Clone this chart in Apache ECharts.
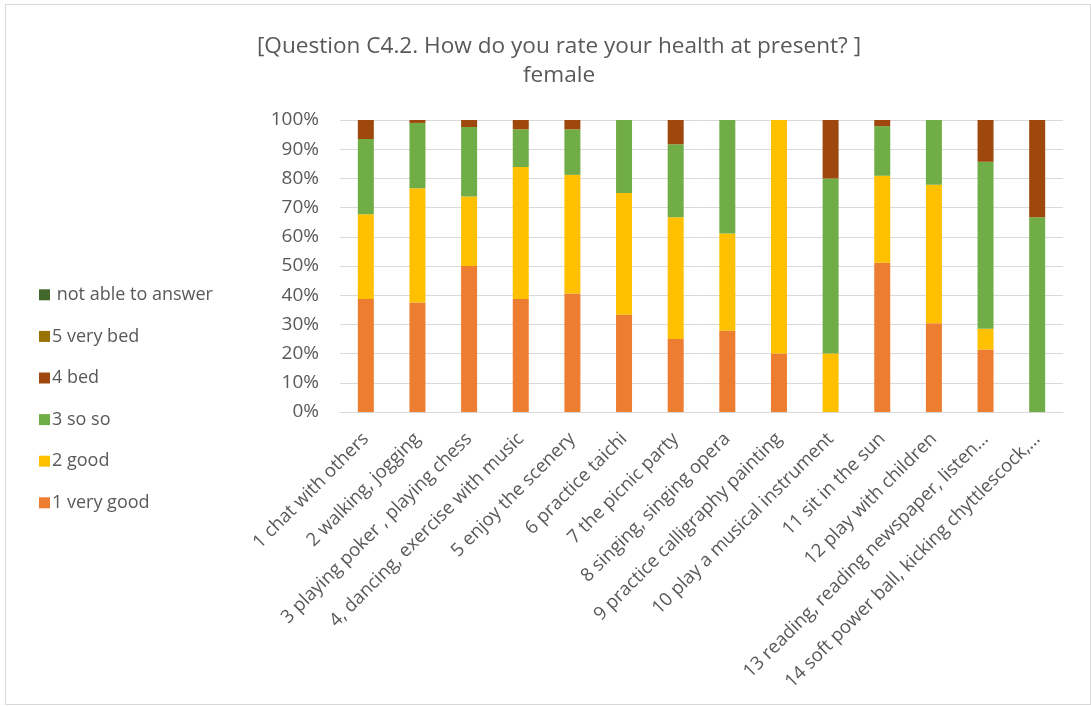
<!DOCTYPE html>
<html>
<head>
<meta charset="utf-8">
<script src="https://cdn.jsdelivr.net/npm/echarts@6/dist/echarts.min.js"></script>
<style>
  html, body { margin: 0; padding: 0; background: #fff; }
  #frame { position: absolute; left: 5px; top: 4px; width: 1084px; height: 699px; border: 1px solid #d9d9d9; }
  #healthchart { position: absolute; left: 0; top: 0; width: 1091px; height: 706px; }
</style>
</head>
<body>
<div id="frame"></div>
<div id="healthchart"></div>
<script>
var option;
const categories = [
  '1 chat with others',
  '2 walking, jogging',
  '3 playing poker , playing chess',
  '4, dancing, exercise with music',
  '5 enjoy the scenery',
  '6 practice taichi',
  '7 the picnic party',
  '8 singing, singing opera',
  '9 practice calligraphy painting',
  '10 play a musical instrument',
  '11 sit in the sun',
  '12 play with children',
  '13 reading, reading newspaper, listen…',
  '14 soft power ball, kicking chyttlescock,…'
];
// shares in percent
const veryGood = [38.7, 37.5, 50.0, 38.7, 40.6, 33.3, 25.0, 27.8, 20.0, 0, 51.1, 30.4, 21.4, 0];
const good = [29.0, 39.1, 23.8, 45.2, 40.6, 41.7, 41.7, 33.3, 80.0, 20.0, 29.8, 47.4, 7.1, 0];
const soSo = [25.8, 22.4, 23.8, 12.9, 15.6, 25.0, 25.0, 38.9, 0, 60.0, 17.0, 22.2, 57.2, 66.7];
const bad = [6.5, 1.0, 2.4, 3.2, 3.2, 0, 8.3, 0, 0, 20.0, 2.1, 0, 14.3, 33.3];
const veryBad = [0, 0, 0, 0, 0, 0, 0, 0, 0, 0, 0, 0, 0, 0];
const notAble = [0, 0, 0, 0, 0, 0, 0, 0, 0, 0, 0, 0, 0, 0];
const seriesNames = ['1 very good', '2 good', '3 so so', '4 bed', '5 very bed', ' not able to answer'];
const seriesColors = ['#ED7D31', '#FFC000', '#70AD47', '#9E480E', '#997300', '#43682B'];
const seriesData = [veryGood, good, soSo, bad, veryBad, notAble];

const healthChart = echarts.init(document.getElementById('healthchart'));
const font = 'Open Sans';
option = {
  animation: false,
  color: seriesColors,
  title: {
    text: '[Question C4.2. How do you rate your health at present? ]\nfemale',
    left: 554,
    top: 27,
    textAlign: 'center',
    textStyle: { fontFamily: font, fontSize: 22.6, fontWeight: 'normal', color: '#595959', lineHeight: 29 }
  },
  legend: {
    orient: 'vertical',
    left: 34,
    top: 279,
    itemWidth: 11,
    itemHeight: 11,
    itemGap: 20,
    icon: 'rect',
    data: seriesNames.slice().reverse(),
    textStyle: { fontFamily: font, fontSize: 18, lineHeight: 21.6, color: '#595959', padding: [0, 0, 0, -3] }
  },
  grid: { left: 340, right: 28, top: 120, bottom: 294, containLabel: false },
  xAxis: {
    type: 'category',
    data: categories,
    axisLine: { lineStyle: { color: '#d9d9d9', width: 1 } },
    axisTick: { show: false },
    axisLabel: { interval: 0, rotate: 45, margin: 24, fontFamily: font, fontSize: 18.5, color: '#595959' }
  },
  yAxis: {
    type: 'value',
    min: 0,
    max: 100,
    interval: 10,
    axisLine: { show: false },
    axisTick: { show: false },
    splitLine: { lineStyle: { color: '#d9d9d9', width: 1 } },
    axisLabel: { formatter: '{value}%', margin: 21, fontFamily: font, fontSize: 19, color: '#595959' }
  },
  series: seriesNames.map(function (name, i) {
    return {
      name: name,
      type: 'bar',
      stack: 'total',
      barWidth: 16,
      data: seriesData[i]
    };
  })
};
option && healthChart.setOption(option);
</script>
</body>
</html>
